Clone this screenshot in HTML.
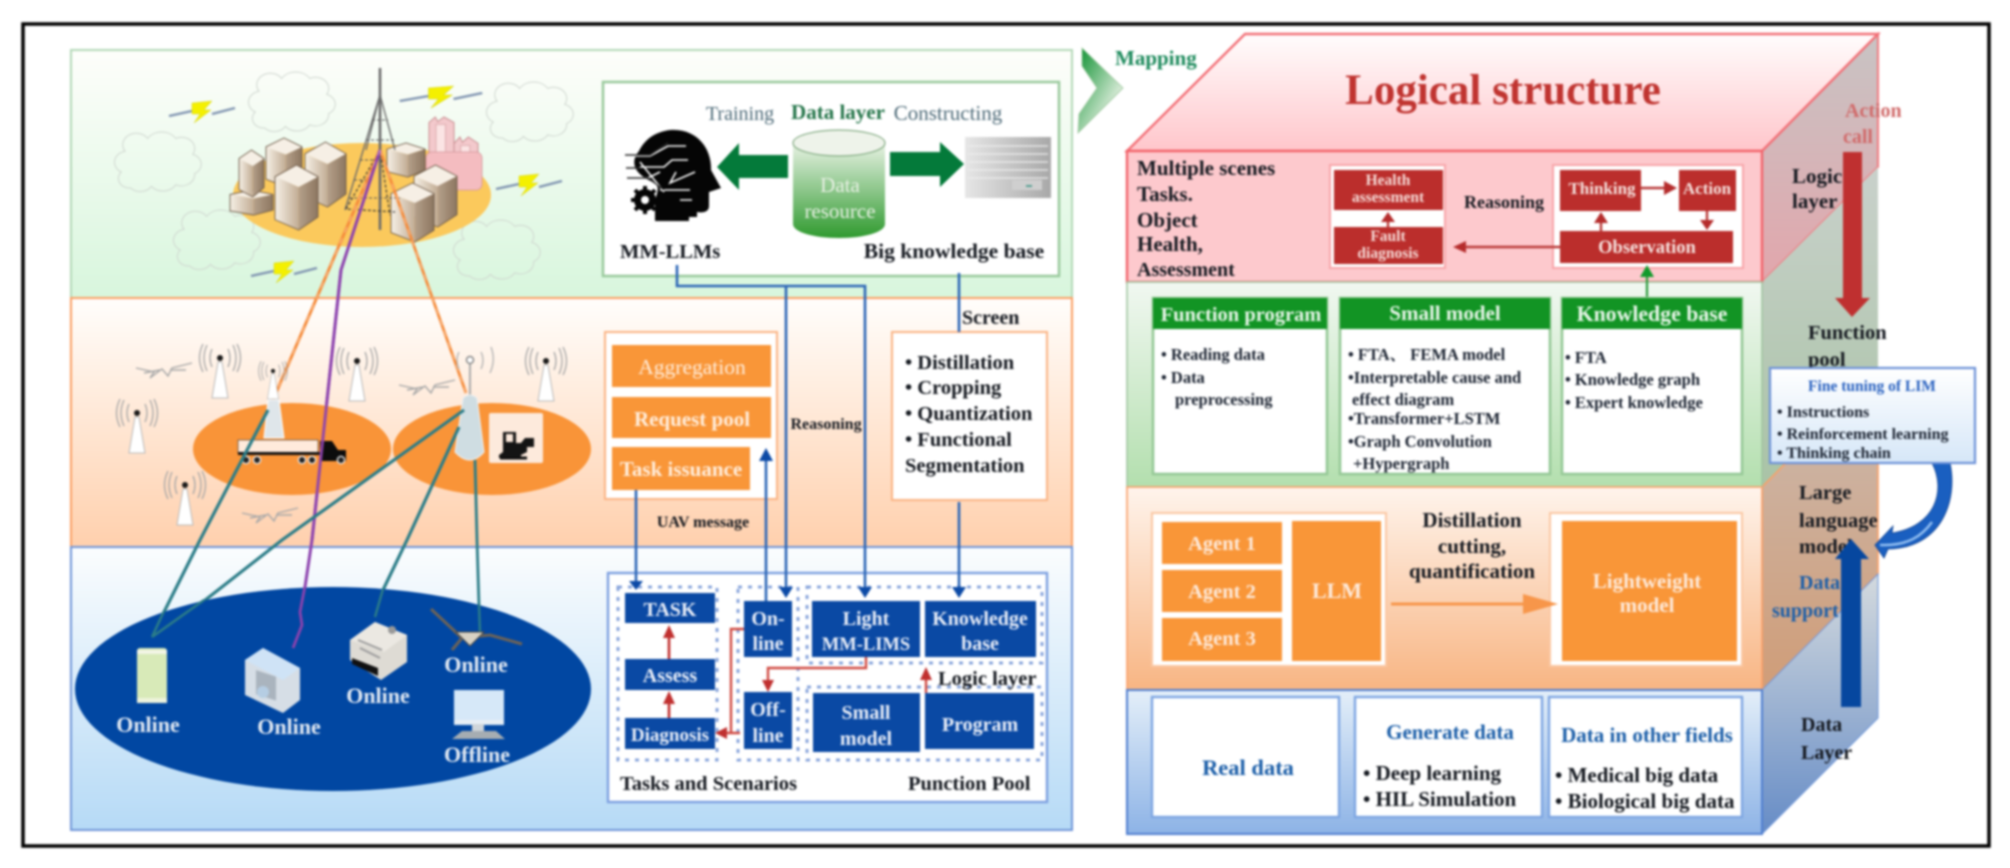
<!DOCTYPE html>
<html><head><meta charset="utf-8"><style>
html,body{margin:0;padding:0;background:#fff;width:2010px;height:868px;overflow:hidden}
svg{display:block;filter:blur(1px)}
text{font-family:"Liberation Serif","Noto Serif CJK SC",serif;font-weight:bold}
.w{fill:#fff}.m{text-anchor:middle}.k{fill:#14181f}
</style></head><body>
<svg width="2010" height="868" viewBox="0 0 2010 868" xmlns="http://www.w3.org/2000/svg">
<defs>
<linearGradient id="gG" x1="0" y1="0" x2="0" y2="1"><stop offset="0" stop-color="#fefefb"/><stop offset="1" stop-color="#d8f6dd"/></linearGradient>
<linearGradient id="gO" x1="0" y1="0" x2="0" y2="1"><stop offset="0" stop-color="#fffefc"/><stop offset="1" stop-color="#ffd0ad"/></linearGradient>
<linearGradient id="gB" x1="0" y1="0" x2="0" y2="1"><stop offset="0" stop-color="#fbfdfe"/><stop offset="1" stop-color="#b6daf6"/></linearGradient>
<linearGradient id="top" x1="0" y1="0" x2="0" y2="1"><stop offset="0" stop-color="#fffdfd"/><stop offset="1" stop-color="#ffc6cb"/></linearGradient>
<linearGradient id="fG" x1="0" y1="0" x2="0" y2="1"><stop offset="0" stop-color="#f1f8f1"/><stop offset="1" stop-color="#b3dfae"/></linearGradient>
<linearGradient id="fO" x1="0" y1="0" x2="0" y2="1"><stop offset="0" stop-color="#fff4ec"/><stop offset="1" stop-color="#f8b583"/></linearGradient>
<linearGradient id="fB" x1="0" y1="0" x2="0" y2="1"><stop offset="0" stop-color="#e4eff9"/><stop offset="1" stop-color="#8db3e6"/></linearGradient>
<linearGradient id="sR" x1="0" y1="0" x2="0" y2="1"><stop offset="0" stop-color="#c8c4c4"/><stop offset="1" stop-color="#e2a6ac"/></linearGradient>
<linearGradient id="sG" x1="0" y1="0" x2="0" y2="1"><stop offset="0" stop-color="#c9d1cb"/><stop offset="1" stop-color="#a9c3a6"/></linearGradient>
<linearGradient id="sO" x1="0" y1="0" x2="0" y2="1"><stop offset="0" stop-color="#cbbab0"/><stop offset="1" stop-color="#d09d78"/></linearGradient>
<linearGradient id="sB" x1="0" y1="0" x2="0" y2="1"><stop offset="0" stop-color="#d4dade"/><stop offset="1" stop-color="#668cc6"/></linearGradient>
<linearGradient id="chev" x1="0" y1="0" x2="1" y2="1"><stop offset="0" stop-color="#0a8f2e"/><stop offset=".75" stop-color="#dfeedd"/><stop offset="1" stop-color="#b8d8b8"/></linearGradient>
<linearGradient id="cyl" x1="0" y1="0" x2="0" y2="1"><stop offset="0" stop-color="#e8f2e4"/><stop offset="1" stop-color="#2f9a2f"/></linearGradient>
<linearGradient id="srv" x1="0" y1="0" x2="1" y2="0"><stop offset="0" stop-color="#e6e6e6"/><stop offset="1" stop-color="#a8a8a8"/></linearGradient>
<linearGradient id="fine" x1="0" y1="0" x2="0" y2="1"><stop offset="0" stop-color="#fff"/><stop offset="1" stop-color="#d6e7f8"/></linearGradient>
<linearGradient id="bL" x1="0" y1="0" x2="1" y2="0"><stop offset="0" stop-color="#f6f0e6"/><stop offset="1" stop-color="#c2ad95"/></linearGradient>
<linearGradient id="bR" x1="0" y1="0" x2="1" y2="0"><stop offset="0" stop-color="#b5a08a"/><stop offset="1" stop-color="#8c7660"/></linearGradient>
<g id="bld">
<polygon points="0,18 50,0 100,18 55,34" fill="#f6efe5"/>
<polygon points="0,18 55,34 55,100 0,84" fill="url(#bL)"/>
<polygon points="55,34 100,18 100,80 55,100" fill="url(#bR)"/>
<polygon points="0,18 50,0 100,18 100,80 55,100 0,84" fill="none" stroke="#6d5a48" stroke-width=".9" vector-effect="non-scaling-stroke"/>
</g>
<g id="pnk">
<polygon points="0,12 25,0 35,10 60,0 100,12 100,88 50,100 0,88" fill="#f3c9cc" stroke="#c98e92" stroke-width="1" vector-effect="non-scaling-stroke"/>
<rect x="28" y="16" width="38" height="72" fill="#fbe4e4" stroke="#d8a2a6" stroke-width=".8" vector-effect="non-scaling-stroke"/>
</g>
<path id="cloud" d="M22 80a12 12 0 0 1-10-20a14 14 0 0 1 4-26a14 14 0 0 1 24-16a18 18 0 0 1 30 0a14 14 0 0 1 18 20a13 13 0 0 1 2 24a14 14 0 0 1-20 14a16 16 0 0 1-26 2a14 14 0 0 1-22 2z" fill="none" stroke="#cfd6cf" stroke-width="1" vector-effect="non-scaling-stroke"/>
<g id="zap"><path d="M-33 4L-10 -1M10 2L33 -4" stroke="#7f93b0" stroke-width="2.4" fill="none"/><polygon points="-10,-9 10,-11 2,-2 9,-2 -8,11 -2,2 -10,2" fill="#f4f000" stroke="#d4d220" stroke-width=".5"/></g>
<g id="ant">
<polygon points="-2,4 2,4 8,40 -8,40" fill="#fff" stroke="#b9b9b9" stroke-width="1"/>
<circle r="3" fill="#1a1a1a"/>
<path d="M-8 -9Q-12 0 -8 9M8 -9Q12 0 8 9M-13 -13Q-19 0 -13 13M13 -13Q19 0 13 13M-17 -14Q-24 0 -17 14M17 -14Q24 0 17 14" fill="none" stroke="#a6a6a6" stroke-width="1.3"/>
</g>
<g id="uav"><path d="M-28 -2L-10 2L-14 8L-2 -1L4 6L8 -2L28 -7M-20 3L-4 0M6 0L22 0" fill="none" stroke="#a8a8a8" stroke-width="1.4"/></g>
</defs>

<rect width="2010" height="868" fill="#fff"/>
<rect x="23" y="24" width="1966" height="822" fill="#fff" stroke="#000" stroke-width="3.5"/>

<!-- LEFT PANELS -->
<rect x="71" y="50" width="1001" height="248" fill="url(#gG)" stroke="#b2d8b6" stroke-width="2"/>
<rect x="71" y="298" width="1001" height="249" fill="url(#gO)" stroke="#fb9e62" stroke-width="2"/>
<rect x="71" y="547" width="1001" height="283" fill="url(#gB)" stroke="#6f95d8" stroke-width="2"/>

<!-- clouds -->
<use href="#cloud" transform="translate(110,124) scale(.94,.8)"/>
<use href="#cloud" transform="translate(244,64) scale(.94,.8)"/>
<use href="#cloud" transform="translate(482,74) scale(.94,.8)"/>
<use href="#cloud" transform="translate(169,202) scale(.94,.8)"/>
<use href="#cloud" transform="translate(449,212) scale(.94,.8)"/>
<use href="#zap" transform="translate(202,112)"/>
<use href="#zap" transform="translate(441,97) scale(1.25,1)"/>
<use href="#zap" transform="translate(529,185)"/>
<use href="#zap" transform="translate(284,272)"/>

<!-- city -->
<ellipse cx="362" cy="195" rx="129" ry="52" fill="#fbc95c"/>
<use href="#pnk" transform="translate(429,117) scale(.25,.46)"/>
<use href="#pnk" transform="translate(454,137) scale(.24,.53)"/>
<rect x="426" y="152" width="56" height="38" rx="6" fill="#f4bcc0" stroke="#d2959a" stroke-width=".8"/>
<use href="#bld" transform="translate(230,190) scale(.43,.25)"/>
<use href="#bld" transform="translate(239,150) scale(.25,.47)"/>
<use href="#bld" transform="translate(266,138) scale(.36,.49)"/>
<use href="#bld" transform="translate(305,142) scale(.41,.65)"/>
<use href="#bld" transform="translate(275,165) scale(.43,.65)"/>
<use href="#bld" transform="translate(387,143) scale(.38,.34)"/>
<use href="#bld" transform="translate(414,165) scale(.43,.62)"/>
<use href="#bld" transform="translate(391,183) scale(.43,.59)"/>
<!-- tower -->
<g stroke="#6b6b6b" fill="none">
<path d="M380 68V230" stroke-width="2.6"/>
<path d="M380 95L345 210M380 95L366 150M380 95L395 150" stroke-width="1.4"/>
<path d="M372 120H388M366 140H394M360 160H384M354 180H372M349 198H400" stroke-width="1" stroke="#555" stroke-dasharray="3 2"/>
<path d="M380 150L346 209L395 212M380 150L390 215" stroke-width="1.2" stroke-dasharray="3 2" stroke="#333"/>
</g>
<!-- links upper -->
<g fill="none">
<path d="M380 150L273 400" stroke="#f58c3c" stroke-width="3"/>
<path d="M380 150L466 393" stroke="#f58c3c" stroke-width="2.8"/>
<path d="M380 150L341 270L312 540L305 587" stroke="#8c42ae" stroke-width="3"/>
<path d="M380 150L273 400M380 150L466 393M341 270L312 540" stroke="#fff" stroke-opacity=".45" stroke-width=".9" stroke-dasharray="6 6"/>
</g>

<!-- edge ellipses -->
<ellipse cx="292" cy="449" rx="99" ry="46" fill="#f99438"/>
<ellipse cx="492" cy="449" rx="99" ry="46" fill="#f99438"/>
<use href="#ant" transform="translate(220,358)"/>
<use href="#ant" transform="translate(357,361)"/>
<use href="#ant" transform="translate(546,361)"/>
<use href="#ant" transform="translate(137,413)"/>
<use href="#ant" transform="translate(185,485)"/>
<use href="#ant" transform="translate(273,371) scale(.7)"/>
<path d="M470 357V397" stroke="#aaa" stroke-width="2"/>
<circle cx="470" cy="360" r="3.5" fill="#fff" stroke="#888" stroke-width="1.5"/>
<path d="M459 352Q455 360 459 369M481 352Q485 360 481 369M491 347Q496 360 490 373" fill="none" stroke="#b0b0b0" stroke-width="1.3"/>
<use href="#uav" transform="translate(164,370)"/>
<use href="#uav" transform="translate(427,387)"/>
<use href="#uav" transform="translate(270,515)"/>
<!-- truck -->
<polygon points="268,400 279,400 284,438 264,438" fill="#dfe6ea" stroke="#fff" stroke-width="1"/>
<rect x="238" y="440" width="80" height="13" fill="#ffeadb" stroke="#333" stroke-width=".6"/>
<rect x="238" y="452" width="82" height="3" fill="#111"/>
<path d="M320 441h12l6 9h8v11h-26z" fill="#0c0c0c"/>
<g fill="#222" stroke="#eee" stroke-width="1.3"><circle cx="246" cy="460" r="3.6"/><circle cx="257" cy="460" r="3.6"/><circle cx="302" cy="460" r="3.6"/><circle cx="312" cy="460" r="3.6"/><circle cx="341" cy="460" r="3.6"/></g>
<!-- right big tower -->
<path d="M463 398Q470 392 477 398L484 452Q470 468 455 452z" fill="#cfdde2" stroke="#f2f2f2" stroke-width="1"/>
<rect x="489" y="413" width="54" height="50" rx="2" fill="#fdeadc"/>
<path d="M503 432h13v11h5l4 -5h9v9h-7v5l-6 3v3h-22v-3l4 -3z" fill="#141414"/>
<rect x="506" y="434" width="7" height="8" fill="#fdeadc"/>
<path d="M500 458h27" stroke="#111" stroke-width="3"/>
<!-- purple over ellipse area -->
<path d="M341 270L312 540" stroke="#8c42ae" stroke-width="3" fill="none" opacity=".95"/>
<!-- teal links -->
<g fill="none" stroke="#2c7d88" stroke-width="3.2">
<path d="M268 410L200 540L164 612"/>
<path d="M464 410L282 540L204 601"/>
<path d="M459 427L407 540L383 590"/>
<path d="M475 460L477 540L479 606" stroke-width="2.8"/>
</g>
<!-- device ellipse -->
<ellipse cx="333" cy="689" rx="258" ry="102" fill="#0147a2"/>
<path d="M164 611L152 637M204 600L152 637" stroke="#2c7d88" stroke-width="2.5" fill="none"/>
<path d="M305 586L300 612L302 625L293 648" stroke="#8c42ae" stroke-width="2.8" fill="none"/>
<path d="M383 589L375 617M479 605L480 633" stroke="#2c7d88" stroke-width="2.4" fill="none"/>
<!-- phone -->
<rect x="137" y="648" width="30" height="55" rx="3" fill="#d8eab8"/>
<rect x="137" y="650" width="30" height="4" fill="#f2f5e6"/><rect x="137" y="698" width="30" height="5" fill="#eef3dc"/>
<!-- camera -->
<polygon points="245,660 263,648 300,668 300,700 283,713 245,695" fill="#d6dee6"/>
<polygon points="245,660 263,648 300,668 283,680" fill="#cfe3f6"/>
<rect x="256" y="672" width="20" height="24" fill="#aab4be" transform="skewY(18) translate(0,-85)"/>
<circle cx="263" cy="692" r="6" fill="#b5cde3"/>
<!-- printer -->
<polygon points="350,640 375,622 407,635 407,662 381,680 350,660" fill="#dedbd4"/>
<polygon points="350,640 375,622 407,635 384,652" fill="#ebe8e2"/>
<polygon points="352,658 378,668 378,676 352,664" fill="#111"/>
<circle cx="392" cy="630" r="4" fill="#999"/>
<path d="M358 640L382 650M360 648L380 658" stroke="#9b9b9b" stroke-width="2"/>
<!-- uav -->
<path d="M431 609L462 638L490 635L522 644M462 638L452 650" stroke="#6d6357" stroke-width="3" fill="none"/>
<path d="M456 632L484 632L470 646z" fill="#d8d2c4" stroke="#4c4840"/>
<!-- monitor -->
<rect x="454" y="690" width="50" height="35" fill="#d6e8f8"/><rect x="454" y="720" width="50" height="4" fill="#e7eef5"/>
<rect x="472" y="724" width="12" height="8" fill="#cfd5da"/>
<polygon points="452,739 462,731 496,731 505,739" fill="#a6adb2"/>
<g font-size="22" fill="#e3eaf3" class="m" text-anchor="middle">
<text x="148" y="732">Online</text><text x="289" y="734">Online</text><text x="378" y="703">Online</text><text x="476" y="672">Online</text><text x="477" y="762">Offline</text>
</g>

<!-- DATA LAYER BOX -->
<rect x="603" y="82" width="456" height="194" fill="#fff" stroke="#99c99c" stroke-width="2.5"/>
<text x="740" y="120" font-size="20" text-anchor="middle" style="font-weight:normal" fill="#4d6a78">Training</text>
<text x="838" y="119" font-size="21" text-anchor="middle" fill="#25754a">Data layer</text>
<text x="948" y="120" font-size="21" text-anchor="middle" style="font-weight:normal" fill="#4d6a78">Constructing</text>
<!-- head -->
<path d="M672 131c28-2 42 20 41 40l10 18-12 4v14c0 6-6 7-12 6h-8v9h-34v-18c0-8 6-14 0-20-20-8-26-20-16-32 6-12 16-19 31-21z" transform="translate(-2,-1)" fill="#050505"/>
<rect x="661" y="212" width="36" height="5" fill="#050505"/>
<g fill="none" stroke="#fff" stroke-width="1.6"><path d="M626 156H650L668 146H686M640 167H664L672 160H688M628 178H648L660 172M676 172L670 183L695 172M660 190H690M680 200H692M640 162L664 192"/></g>
<g fill="none" stroke="#2a2a2a" stroke-width="1.4"><path d="M625 155H650L668 143M626 168H640M627 178H648L664 190"/></g>
<circle cx="645" cy="200" r="11" fill="#050505"/>
<g stroke="#050505" stroke-width="4"><path d="M645 186V214M631 200H659M635 190L655 210M655 190L635 210"/></g><circle cx="645" cy="200" r="4" fill="#fff"/>
<!-- arrows -->
<polygon points="717,167 739,143 739,155 788,155 788,178 739,178 739,190" fill="#047a3a"/>
<polygon points="964,164 940,142 940,152 890,152 890,176 940,176 940,187" fill="#047a3a"/>
<!-- cylinder -->
<path d="M793 143V224C793 232 813 238 839 238S885 232 885 224V143z" fill="url(#cyl)"/>
<ellipse cx="839" cy="143" rx="46" ry="13" fill="#eef3ea" stroke="#6e9c6e" stroke-width="1"/>
<text x="840" y="192" font-size="21" text-anchor="middle" style="font-weight:normal" fill="#e8f0e4">Data</text>
<text x="840" y="218" font-size="21" text-anchor="middle" style="font-weight:normal" fill="#e8f0e4">resource</text>
<!-- server -->
<rect x="965" y="137" width="86" height="61" fill="url(#srv)"/>
<g stroke="#ededed" stroke-width="1.2"><path d="M968 146H1048M968 154H1048M968 162H1048M968 170H1048M968 178H1048"/></g>
<rect x="1012" y="180" width="30" height="10" fill="#cfcfcf"/><path d="M1026 186h6" stroke="#2f8f7f" stroke-width="1.5"/>
<text x="620" y="258" font-size="20.5" class="k">MM-LLMs</text>
<text x="954" y="258" font-size="21.5" text-anchor="middle" class="k">Big knowledge base</text>

<!-- ORANGE LEFT -->
<rect x="605" y="332" width="172" height="167" fill="#fff" stroke="#fbb383" stroke-width="2"/>
<g fill="#f99638">
<rect x="612" y="345" width="159" height="42"/><rect x="612" y="397" width="159" height="41"/><rect x="612" y="447" width="138" height="43"/>
</g>
<text x="692" y="374" font-size="21.5" text-anchor="middle" style="font-weight:normal" fill="#ffeedd">Aggregation</text>
<text x="692" y="426" font-size="21" text-anchor="middle" fill="#ffeedd">Request pool</text>
<text x="681" y="476" font-size="21" text-anchor="middle" fill="#ffeedd">Task issuance</text>
<rect x="892" y="332" width="155" height="168" fill="#fff" stroke="#fbb383" stroke-width="2"/>
<g font-size="20.5" class="k">
<text x="905" y="369">• Distillation</text><text x="905" y="394">• Cropping</text><text x="905" y="420">• Quantization</text><text x="905" y="446">• Functional</text><text x="905" y="472">Segmentation</text>
</g>
<text x="962" y="324" font-size="20" class="k">Screen</text>
<text x="826" y="429" font-size="16" text-anchor="middle" class="k">Reasoning</text>
<text x="703" y="527" font-size="16" text-anchor="middle" class="k">UAV message</text>

<!-- BLUE LEFT -->
<rect x="608" y="573" width="439" height="229" fill="#fff" stroke="#7da0e0" stroke-width="2.4"/>
<g fill="none" stroke="#8aa6dc" stroke-width="3" stroke-dasharray="4 6">
<rect x="618" y="587" width="99" height="173"/><rect x="738" y="587" width="60" height="173"/>
<rect x="807" y="587" width="235" height="76"/><rect x="807" y="687" width="235" height="73"/>
</g>
<g fill="#0a49a4">
<rect x="625" y="593" width="90" height="30"/><rect x="625" y="659" width="90" height="31"/><rect x="625" y="718" width="90" height="31"/>
<rect x="744" y="601" width="48" height="56"/><rect x="744" y="692" width="48" height="57"/>
<rect x="812" y="601" width="108" height="56"/><rect x="925" y="601" width="111" height="56"/>
<rect x="813" y="693" width="107" height="59"/><rect x="925" y="693" width="109" height="56"/>
</g>
<g font-size="20" text-anchor="middle" fill="#e9eef8">
<text x="670" y="616">TASK</text><text x="670" y="682">Assess</text><text x="670" y="741" font-size="19">Diagnosis</text>
<text x="768" y="625">On-</text><text x="768" y="650">line</text><text x="768" y="716">Off-</text><text x="768" y="742">line</text>
<text x="866" y="625">Light</text><text x="866" y="650" font-size="18.5">MM-LIMS</text>
<text x="980" y="625">Knowledge</text><text x="980" y="650">base</text>
<text x="866" y="719">Small</text><text x="866" y="745">model</text><text x="980" y="731">Program</text>
</g>
<text x="938" y="685" font-size="20.5" class="k">Logic layer</text>
<text x="620" y="790" font-size="20.5" class="k">Tasks and Scenarios</text>
<text x="908" y="790" font-size="20.5" class="k">Punction Pool</text>

<!-- blue connectors -->
<g fill="none" stroke="#2c66b6" stroke-width="2.6">
<path d="M677 265V286H865V588"/><path d="M786 286V588"/><path d="M959 273V332"/><path d="M959 502V588"/>
<path d="M636 490V582"/><path d="M766 601V460"/>
</g>
<g fill="#0c4aa6">
<polygon points="629,581 643,581 636,590"/><polygon points="779,587 793,587 786,598"/><polygon points="858,587 872,587 865,598"/><polygon points="952,587 966,587 959,598"/><polygon points="759,461 773,461 766,448"/>
</g>
<!-- red connectors -->
<g fill="none" stroke="#d04a42" stroke-width="2.4">
<path d="M744 629H731V733"/><path d="M740 733H718"/><path d="M866 657V668H768V684"/><path d="M926 693V676"/>
</g>
<g stroke="#c0302f" stroke-width="2.6"><path d="M669 659V635"/><path d="M669 718V702"/></g>
<g fill="#c0302f">
<polygon points="669,625 663,638 675,638"/><polygon points="669,691 663,704 675,704"/><polygon points="715,733 727,727 727,739"/><polygon points="768,692 762,680 774,680"/><polygon points="926,667 920,680 932,680"/>
</g>

<!-- MAPPING -->
<polygon points="1082,48 1123,88 1078,133 1079,114 1097,88 1082,66" fill="url(#chev)" stroke="#9cc79c" stroke-width=".8"/>
<text x="1115" y="65" font-size="21" fill="#1d8a5c">Mapping</text>

<!-- CUBE -->
<polygon points="1762,151 1878,34 1878,167 1762,282" fill="url(#sR)" stroke="#f07b80" stroke-width="2"/>
<polygon points="1762,282 1878,167 1878,370 1762,487" fill="url(#sG)"/>
<polygon points="1762,487 1878,370 1878,574 1762,690" fill="url(#sO)" stroke="#fba066" stroke-width="1.6"/>
<polygon points="1762,690 1878,574 1878,718 1762,834" fill="url(#sB)" stroke="#6d95d8" stroke-width="1"/>
<polygon points="1127,151 1245,34 1878,34 1762,151" fill="url(#top)" stroke="#f27077" stroke-width="2.4"/>
<rect x="1127" y="151" width="635" height="131" fill="#fdc9cd" stroke="#f2646b" stroke-width="2.4"/>
<rect x="1127" y="282" width="635" height="205" fill="url(#fG)" stroke="#9fc49f" stroke-width="1.5"/>
<rect x="1127" y="487" width="635" height="203" fill="url(#fO)" stroke="#fa9f68" stroke-width="1.6"/>
<rect x="1127" y="690" width="635" height="144" fill="url(#fB)" stroke="#4f7ed0" stroke-width="2"/>
<text x="1503" y="104" font-size="43" text-anchor="middle" fill="#c03430">Logical structure</text>

<!-- red layer -->
<g font-size="21" class="k">
<text x="1137" y="175">Multiple scenes</text><text x="1137" y="201">Tasks.</text><text x="1137" y="227">Object</text><text x="1137" y="251">Health,</text><text x="1137" y="276" font-size="20">Assessment</text>
</g>
<rect x="1330" y="165" width="115" height="103" fill="#fff" stroke="#f7a4a8" stroke-width="2"/>
<rect x="1553" y="165" width="190" height="103" fill="#fff" stroke="#f7a4a8" stroke-width="2"/>
<g fill="#bb2e2c">
<rect x="1334" y="170" width="109" height="40"/><rect x="1334" y="227" width="109" height="37"/>
<rect x="1560" y="170" width="81" height="41"/><rect x="1679" y="170" width="57" height="41"/><rect x="1560" y="231" width="173" height="32"/>
</g>
<g text-anchor="middle" fill="#f6dcd8" font-size="15.5">
<text x="1388" y="185">Health</text><text x="1388" y="202">assessment</text>
<text x="1388" y="241">Fault</text><text x="1388" y="258">diagnosis</text>
</g>
<g text-anchor="middle" fill="#f6e4e0" font-size="17">
<text x="1602" y="194">Thinking</text><text x="1707" y="194">Action</text><text x="1647" y="253" font-size="18.5">Observation</text>
</g>
<text x="1504" y="208" font-size="18" text-anchor="middle" class="k">Reasoning</text>
<g stroke="#b93a38" stroke-width="2.4" fill="none"><path d="M1560 247H1462"/><path d="M1641 188H1668"/><path d="M1601 231V222"/><path d="M1707 211V222"/><path d="M1388 227V220"/></g>
<g fill="#b52c2c">
<polygon points="1453,247 1466,241 1466,253"/><polygon points="1677,188 1664,181 1664,195"/><polygon points="1601,212 1594,223 1608,223"/><polygon points="1707,230 1700,220 1714,220"/><polygon points="1388,212 1381,222 1395,222"/>
</g>
<path d="M1647 298V275" stroke="#2a9a3a" stroke-width="2.2"/><polygon points="1647,265 1640,277 1654,277" fill="#129a2b"/>

<!-- green layer -->
<g fill="#fff" stroke="#95c896" stroke-width="2.6">
<rect x="1153" y="298" width="174" height="176"/><rect x="1340" y="298" width="210" height="176"/><rect x="1562" y="298" width="180" height="176"/>
</g>
<g fill="#129424">
<rect x="1153" y="298" width="174" height="31"/><rect x="1340" y="298" width="210" height="31"/><rect x="1562" y="298" width="180" height="31"/>
</g>
<g font-size="20.5" text-anchor="middle" fill="#e9f6ea">
<text x="1241" y="321">Function program</text><text x="1445" y="320" font-size="21">Small model</text><text x="1652" y="321" font-size="21.8">Knowledge base</text>
</g>
<g font-size="16.5" fill="#1a2230">
<text x="1161" y="360">• Reading data</text><text x="1161" y="383">• Data</text><text x="1175" y="405">preprocessing</text>
<text x="1348" y="360">• FTA、 FEMA model</text><text x="1348" y="383">•Interpretable cause and</text><text x="1352" y="405">effect diagram</text><text x="1348" y="424">•Transformer+LSTM</text><text x="1348" y="447">•Graph Convolution</text><text x="1353" y="469">+Hypergraph</text>
<text x="1565" y="363">• FTA</text><text x="1565" y="385">• Knowledge graph</text><text x="1565" y="408">• Expert knowledge</text>
</g>

<!-- orange layer -->
<rect x="1152" y="513" width="234" height="153" fill="#fff" stroke="#fbc7a2" stroke-width="2"/>
<rect x="1550" y="513" width="192" height="153" fill="#fff" stroke="#fbc7a2" stroke-width="2"/>
<g fill="#f99638">
<rect x="1162" y="522" width="120" height="42"/><rect x="1162" y="570" width="120" height="42"/><rect x="1162" y="618" width="120" height="43"/>
<rect x="1292" y="521" width="89" height="140"/><rect x="1562" y="521" width="175" height="140"/>
</g>
<g font-size="20.5" text-anchor="middle" fill="#fdeadb">
<text x="1222" y="550">Agent 1</text><text x="1222" y="598">Agent 2</text><text x="1222" y="645">Agent 3</text><text x="1337" y="598" font-size="22">LLM</text>
<text x="1647" y="588" font-size="21">Lightweight</text><text x="1647" y="612" font-size="21">model</text>
</g>
<g font-size="21" text-anchor="middle" class="k">
<text x="1472" y="527">Distillation</text><text x="1472" y="553">cutting,</text><text x="1472" y="578">quantification</text>
</g>
<path d="M1391 604H1530" stroke="#f7964a" stroke-width="3"/><polygon points="1558,604 1523,594 1523,614" fill="#f7964a"/>

<!-- blue layer -->
<g fill="#fff" stroke="#7ea6e2" stroke-width="2.4">
<rect x="1152" y="697" width="187" height="120"/><rect x="1355" y="697" width="187" height="120"/><rect x="1549" y="697" width="193" height="120"/>
</g>
<g text-anchor="middle" fill="#1b5ea8" font-size="21">
<text x="1248" y="775" font-size="22.5">Real data</text><text x="1450" y="739">Generate data</text><text x="1647" y="742" font-size="21">Data in other fields</text>
</g>
<g font-size="21" class="k">
<text x="1363" y="780">• Deep learning</text><text x="1363" y="806">• HIL Simulation</text>
<text x="1555" y="782">• Medical big data</text><text x="1555" y="808">• Biological big data</text>
</g>

<!-- side labels -->
<text x="1845" y="117" font-size="20" fill="#d06a6a">Action</text>
<text x="1843" y="143" font-size="20" fill="#d06a6a">call</text>
<g font-size="21" class="k">
<text x="1792" y="183">Logic</text><text x="1792" y="208">layer</text>
<text x="1808" y="339" font-size="20.5">Function</text><text x="1808" y="366" font-size="20.5">pool</text>
<text x="1799" y="499" font-size="20.5">Large</text><text x="1799" y="527" font-size="20.5">language</text><text x="1799" y="553" font-size="20.5">model</text>
<text x="1801" y="731" font-size="20">Data</text><text x="1801" y="759" font-size="20">Layer</text>
</g>
<text x="1799" y="589" font-size="20" fill="#1b5ea8">Data</text>
<text x="1772" y="617" font-size="20" fill="#1b5ea8">support</text>
<polygon points="1843,152 1862,152 1862,298 1870,298 1852,317 1835,298 1843,298" fill="#bf3030"/>
<polygon points="1841,707 1861,707 1861,559 1869,559 1851,539 1835,559 1841,559" fill="#06479f"/>

<!-- curved arrow -->
<path d="M1932 463C1946 490 1936 526 1892 533L1893 526L1875 545L1884 558L1888 549C1942 548 1958 500 1950 463z" fill="#1a5fc0" stroke="#0c3f8f" stroke-width=".8"/>
<path d="M1880 545C1908 546 1922 536 1932 522" fill="none" stroke="#8fbcf0" stroke-width="2.6"/>

<!-- fine tuning -->
<rect x="1770" y="368" width="205" height="95" fill="url(#fine)" stroke="#6d92d8" stroke-width="2.2"/>
<text x="1872" y="391" font-size="15.5" text-anchor="middle" fill="#2a62c0">Fine tuning of LIM</text>
<g font-size="16" fill="#1a2230">
<text x="1777" y="417">• Instructions</text><text x="1777" y="439">• Reinforcement learning</text><text x="1777" y="458">• Thinking chain</text>
</g>
</svg>
</body></html>
